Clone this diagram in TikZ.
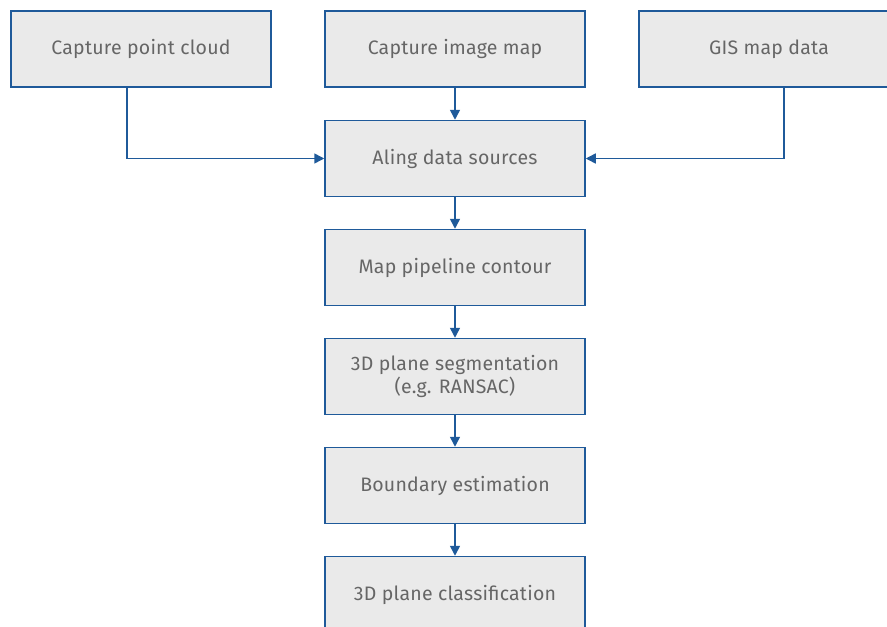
\documentclass[tikz,border=0pt]{standalone}
\usepackage{fontspec}
\setmainfont{Fira Sans}
\usetikzlibrary{arrows.meta}
\definecolor{boxfill}{HTML}{EAEAEA}
\definecolor{boxline}{HTML}{1F5A9A}
\definecolor{boxtext}{HTML}{666666}
\tikzset{
  stepbox/.style={draw=boxline, line width=1.5pt, fill=boxfill, text=boxtext,
    minimum width=260pt, minimum height=76pt, inner sep=0pt, align=center,
    font=\fontsize{19.5pt}{23pt}\selectfont\addfontfeatures{LetterSpace=1.2}},
  EdgeStyle/.style={draw=boxline, line width=1.5pt, -{Triangle[length=10pt,width=10pt]}}
}
\begin{document}
\begin{tikzpicture}[x=1pt,y=-1pt]
\useasboundingbox (0,0) rectangle (887,627);
\clip (0,0) rectangle (887,627);

\node[stepbox] (cloud) at (141,49) {Capture point cloud};
\node[stepbox] (image) at (455,49) {Capture image map};
\node[stepbox] (gis) at (769,49) {GIS map data};
\node[stepbox] (align) at (455,158.5) {Aling data sources};
\node[stepbox] (contour) at (455,267.5) {Map pipeline contour};
\node[stepbox] (segment) at (455,376.5) {3D plane segmentation\\(e.g. RANSAC)};
\node[stepbox] (boundary) at (455,485.5) {Boundary estimation};
\node[stepbox] (classify) at (455,594.5) {3D plane classification};

\draw[EdgeStyle] (cloud.south -| 127,0) |- (align.west);
\draw[EdgeStyle] (gis.south -| 784,0) |- (align.east);
\draw[EdgeStyle] (image) -- (align);
\draw[EdgeStyle] (align) -- (contour);
\draw[EdgeStyle] (contour) -- (segment);
\draw[EdgeStyle] (segment) -- (boundary);
\draw[EdgeStyle] (boundary) -- (classify);
\end{tikzpicture}
\end{document}
